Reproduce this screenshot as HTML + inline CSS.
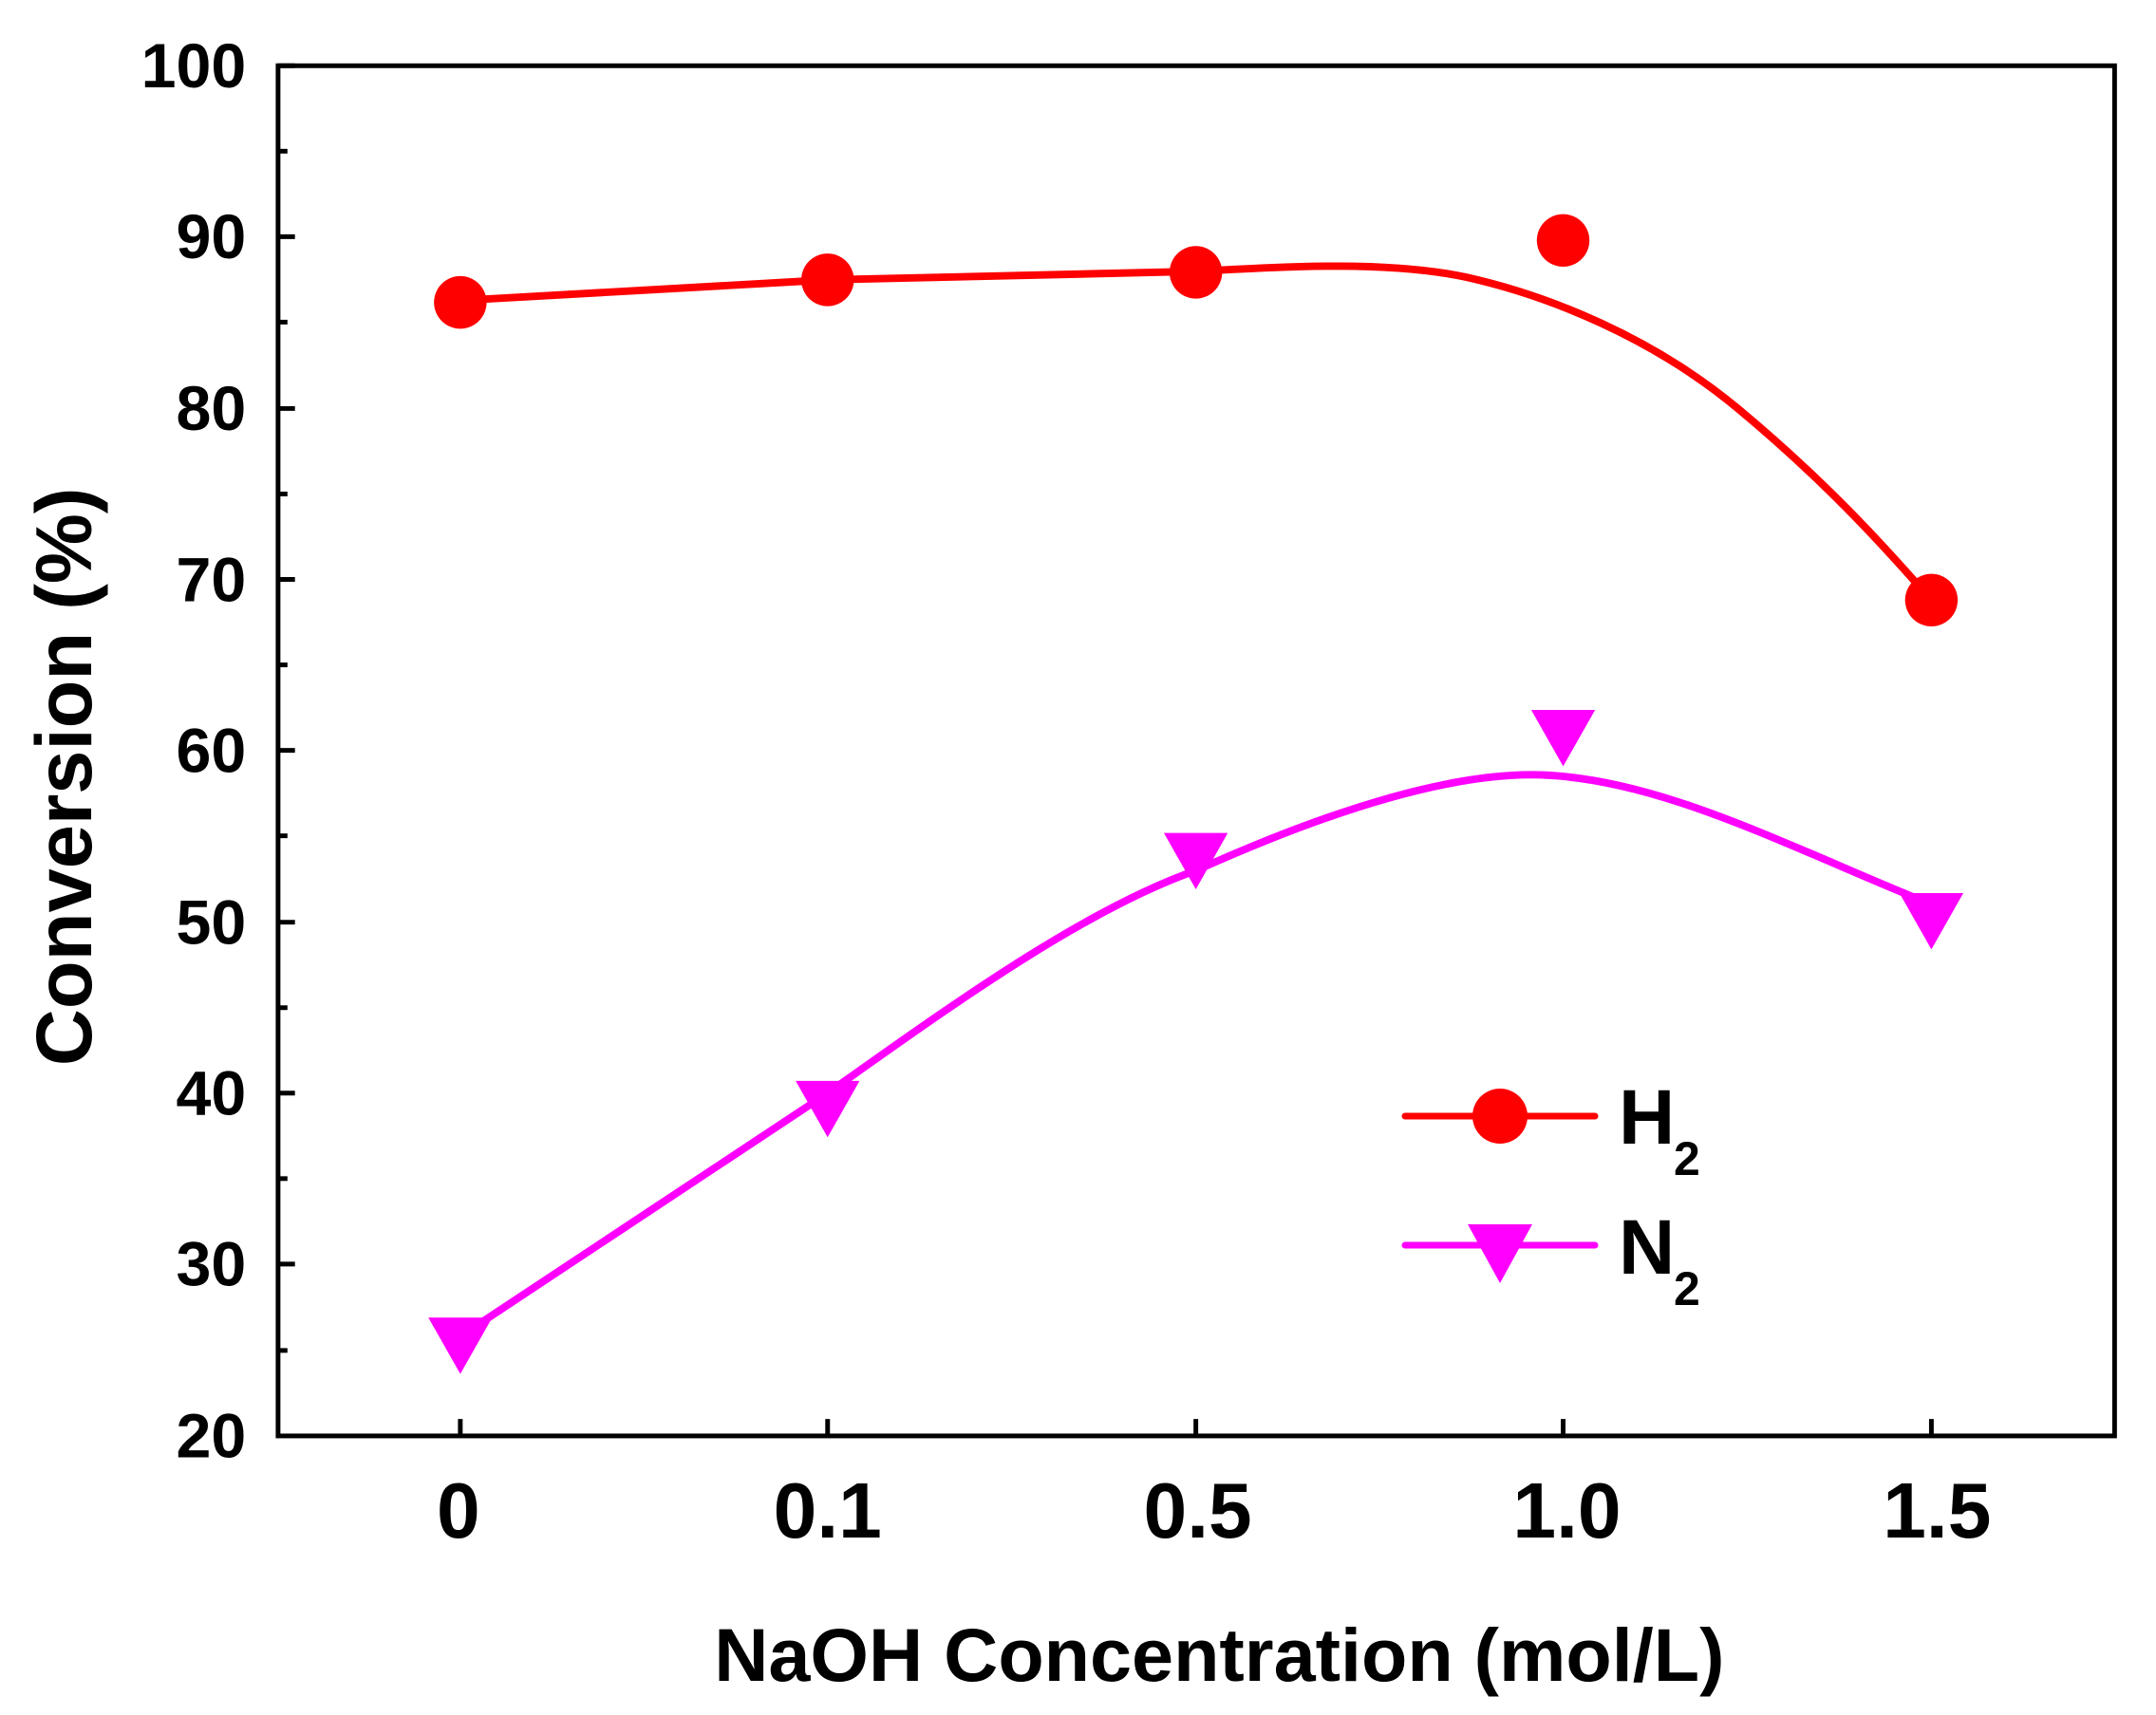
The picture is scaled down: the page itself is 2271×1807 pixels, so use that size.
<!DOCTYPE html>
<html><head><style>body{margin:0;background:#fff}svg{display:block}</style></head>
<body>
<svg width="2271" height="1807" viewBox="0 0 2271 1807" xmlns="http://www.w3.org/2000/svg" font-family="Liberation Sans, sans-serif" font-weight="bold">
<rect width="2271" height="1807" fill="#fff"/>
<g transform="scale(0.9895)">
<rect x="296" y="70" width="1955" height="1459" fill="none" stroke="#000" stroke-width="5"/>
<g stroke="#000" stroke-width="5">
<line x1="296" y1="70" x2="314" y2="70"/><line x1="296" y1="161" x2="306" y2="161"/>
<line x1="296" y1="252" x2="314" y2="252"/><line x1="296" y1="343" x2="306" y2="343"/>
<line x1="296" y1="435" x2="314" y2="435"/><line x1="296" y1="526" x2="306" y2="526"/>
<line x1="296" y1="617" x2="314" y2="617"/><line x1="296" y1="708" x2="306" y2="708"/>
<line x1="296" y1="799" x2="314" y2="799"/><line x1="296" y1="890" x2="306" y2="890"/>
<line x1="296" y1="982" x2="314" y2="982"/><line x1="296" y1="1073" x2="306" y2="1073"/>
<line x1="296" y1="1164" x2="314" y2="1164"/><line x1="296" y1="1255" x2="306" y2="1255"/>
<line x1="296" y1="1346" x2="314" y2="1346"/><line x1="296" y1="1438" x2="306" y2="1438"/>
<line x1="490" y1="1529" x2="490" y2="1511"/><line x1="881" y1="1529" x2="881" y2="1511"/>
<line x1="1273" y1="1529" x2="1273" y2="1511"/><line x1="1664" y1="1529" x2="1664" y2="1511"/>
<line x1="2056" y1="1529" x2="2056" y2="1511"/>
</g>
<g font-size="67" text-anchor="end">
<text x="262" y="93">100</text><text x="262" y="275">90</text><text x="262" y="458">80</text>
<text x="262" y="640">70</text><text x="262" y="822">60</text><text x="262" y="1005">50</text>
<text x="262" y="1187">40</text><text x="262" y="1369">30</text><text x="262" y="1552">20</text>
</g>
<g font-size="83" text-anchor="middle">
<text x="488" y="1637">0</text><text x="881" y="1637">0.1</text><text x="1275" y="1637">0.5</text>
<text x="1668" y="1637">1.0</text><text x="2062" y="1637">1.5</text>
</g>
<text x="1298" y="1790" font-size="80" text-anchor="middle">NaOH Concentration (mol/L)</text>
<text transform="translate(97,827) rotate(-90)" font-size="84" text-anchor="middle">Conversion (%)</text>
<path d="M490,320 L881,298 L1273,289 C1380,283 1480,278 1560,295 C1650,315 1760,360 1850,435 C1940,510 2000,575 2056,639" fill="none" stroke="#f00" stroke-width="8"/>
<path d="M490,1423 L881,1164 C1000,1080 1150,970 1273,927 C1400,870 1530,825 1630,825 C1760,825 1900,900 2056,963" fill="none" stroke="#f0f" stroke-width="8"/>
<g fill="#f00">
<circle cx="490" cy="322" r="28"/><circle cx="881" cy="298" r="28"/><circle cx="1273" cy="290" r="28"/>
<circle cx="1664" cy="256" r="28"/><circle cx="2056" cy="639" r="28"/>
</g>
<g fill="#f0f">
<path d="M456,1403 h68 l-34,60 z"/><path d="M847,1151 h68 l-34,60 z"/><path d="M1239,887 h68 l-34,60 z"/>
<path d="M1630,756 h68 l-34,60 z"/><path d="M2022,951 h68 l-34,60 z"/>
</g>
</g>
<line x1="1480" y1="1176" x2="1680" y2="1176" stroke="#f00" stroke-width="7" stroke-linecap="round"/>
<circle cx="1580" cy="1176" r="29" fill="#f00"/>
<line x1="1480" y1="1312" x2="1680" y2="1312" stroke="#f0f" stroke-width="7" stroke-linecap="round"/>
<path d="M1546,1290 h68 l-34,62 z" fill="#f0f"/>
<text x="1705" y="1205" font-size="82">H</text><text x="1763" y="1238" font-size="50">2</text>
<text x="1705" y="1342" font-size="82">N</text><text x="1763" y="1375" font-size="50">2</text>
</svg>
</body></html>
